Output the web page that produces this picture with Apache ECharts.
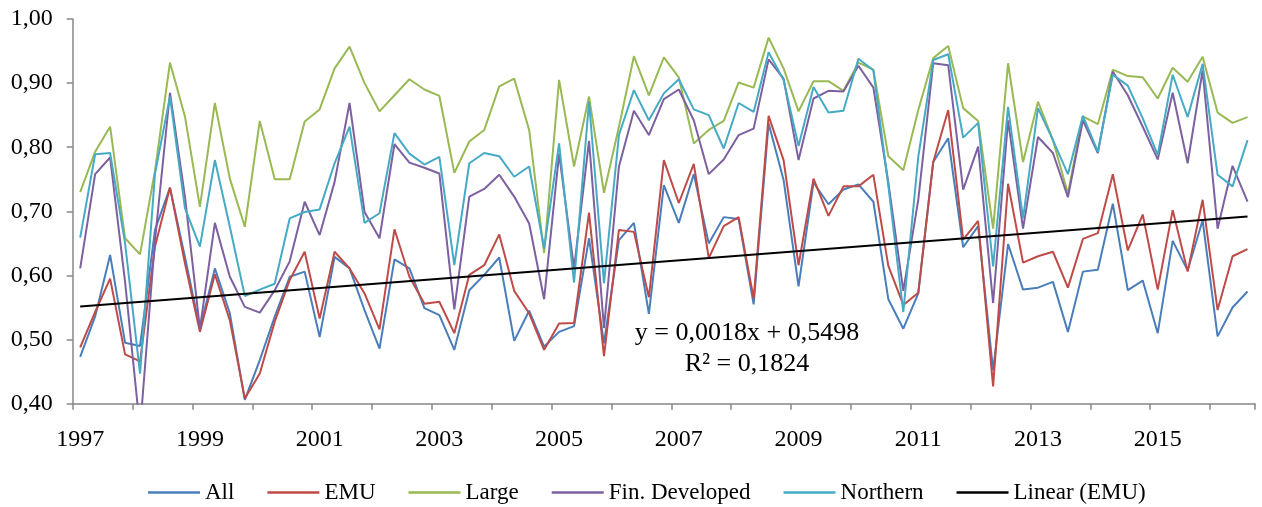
<!DOCTYPE html>
<html>
<head>
<meta charset="utf-8">
<script src="https://cdn.jsdelivr.net/npm/echarts@6/dist/echarts.min.js"></script>
<style>
html,body{margin:0;padding:0;background:#fff;}
#chart{width:1262px;height:507px;}
</style>
</head>
<body>
<div id="chart"></div>
<script>
// Quarterly categories 1997Q1 .. 2016Q3
const startYear = 1997;
const quarterCount = 79;
const categories = [];
for (let i = 0; i < quarterCount; i++) {
  categories.push((startYear + Math.floor(i / 4)) + 'Q' + (i % 4 + 1));
}

const allValues = [0.473,0.536,0.632,0.495,0.490,0.671,0.737,0.629,0.517,0.611,0.541,0.406,0.468,0.536,0.598,0.606,0.504,0.629,0.611,0.546,
0.486,0.625,0.611,0.549,0.538,0.484,0.577,0.601,0.628,0.498,0.545,0.489,0.512,0.521,0.658,0.494,0.655,0.682,0.540,0.741,
0.682,0.758,0.650,0.691,0.688,0.555,0.837,0.749,0.583,0.745,0.711,0.734,0.742,0.715,0.563,0.517,0.572,0.777,0.814,0.644,
0.677,0.452,0.649,0.578,0.581,0.590,0.512,0.606,0.609,0.712,0.577,0.592,0.510,0.654,0.608,0.686,0.505,0.550,0.575];

const emuValues = [0.488,0.543,0.595,0.477,0.466,0.645,0.737,0.619,0.512,0.602,0.530,0.408,0.447,0.528,0.593,0.637,0.533,0.637,0.611,0.572,
0.516,0.672,0.598,0.556,0.559,0.510,0.601,0.616,0.664,0.576,0.541,0.484,0.525,0.526,0.698,0.474,0.671,0.668,0.566,0.780,
0.713,0.774,0.627,0.677,0.691,0.564,0.849,0.780,0.616,0.751,0.693,0.739,0.739,0.757,0.615,0.554,0.573,0.777,0.858,0.656,
0.685,0.427,0.743,0.620,0.630,0.637,0.581,0.657,0.666,0.758,0.639,0.695,0.578,0.702,0.606,0.718,0.546,0.630,0.641];

const largeValues = [0.730,0.793,0.832,0.658,0.633,0.764,0.932,0.848,0.707,0.869,0.751,0.676,0.841,0.750,0.750,0.840,0.859,0.923,0.957,0.900,
0.856,0.881,0.906,0.890,0.880,0.760,0.809,0.827,0.895,0.907,0.827,0.635,0.905,0.770,0.879,0.729,0.832,0.942,0.881,0.940,
0.909,0.806,0.827,0.841,0.901,0.893,0.971,0.923,0.856,0.903,0.903,0.888,0.932,0.921,0.786,0.764,0.858,0.939,0.958,0.861,
0.841,0.673,0.931,0.777,0.871,0.811,0.728,0.848,0.836,0.921,0.911,0.909,0.876,0.924,0.902,0.941,0.854,0.838,0.847];

const finDevValues = [0.611,0.758,0.784,0.590,0.360,0.655,0.885,0.723,0.517,0.682,0.598,0.551,0.542,0.577,0.622,0.715,0.663,0.746,0.869,0.699,
0.658,0.805,0.776,0.768,0.759,0.547,0.723,0.735,0.757,0.723,0.681,0.563,0.790,0.611,0.810,0.518,0.770,0.857,0.819,0.875,
0.890,0.842,0.758,0.781,0.819,0.829,0.937,0.907,0.780,0.876,0.888,0.887,0.927,0.893,0.745,0.576,0.718,0.931,0.928,0.734,
0.801,0.557,0.842,0.673,0.816,0.791,0.722,0.842,0.791,0.918,0.881,0.832,0.781,0.885,0.775,0.920,0.673,0.771,0.715];

const northernValues = [0.659,0.789,0.791,0.650,0.447,0.759,0.879,0.705,0.645,0.780,0.676,0.568,0.578,0.587,0.689,0.699,0.703,0.775,0.832,0.682,
0.697,0.822,0.790,0.773,0.785,0.616,0.775,0.791,0.786,0.754,0.770,0.642,0.806,0.589,0.871,0.588,0.819,0.889,0.842,0.884,
0.906,0.859,0.850,0.798,0.869,0.855,0.948,0.905,0.802,0.894,0.854,0.857,0.938,0.920,0.740,0.543,0.785,0.936,0.945,0.815,
0.838,0.614,0.863,0.689,0.861,0.811,0.758,0.849,0.793,0.913,0.896,0.845,0.788,0.913,0.847,0.930,0.757,0.739,0.811];

// Linear trend on EMU as printed on the chart
const trendSlope = 0.0018;
const trendIntercept = 0.5498;
const trendText = ['y = 0,0018x + 0,5498', 'R² = 0,1824'];

const yTicks = { min: 0.4, max: 1.0, step: 0.1 };

const trendValues = categories.map((c, i) =>
  (i === 0 || i === categories.length - 1) ? trendIntercept + trendSlope * (i + 1) : null);

const font = 'Liberation Serif, Times New Roman, serif';
const axisGray = '#878787';

const chart = echarts.init(document.getElementById('chart'), null, { renderer: 'canvas' });

function lineSeries(name, data, color, width) {
  return {
    name: name, type: 'line', data: data, symbol: 'none', showSymbol: false,
    connectNulls: true, clip: true, animation: false,
    lineStyle: { color: color, width: width }, itemStyle: { color: color }
  };
}

chart.setOption({
  animation: false,
  grid: { left: 72.7, right: 7, top: 19, bottom: 103.3, containLabel: false },
  xAxis: {
    type: 'category', data: categories, boundaryGap: true,
    axisLine: { lineStyle: { color: axisGray, width: 1.5 } },
    axisTick: { show: true, interval: 3, length: 6, lineStyle: { color: axisGray, width: 1.5 } },
    axisLabel: {
      interval: 7, margin: 24, color: '#000', fontFamily: font, fontSize: 24,
      formatter: v => v.slice(0, 4)
    },
    splitLine: { show: false }
  },
  yAxis: {
    type: 'value', min: yTicks.min, max: yTicks.max, interval: yTicks.step,
    axisLine: { show: true, lineStyle: { color: axisGray, width: 1.5 } },
    axisTick: { show: true, length: 6, lineStyle: { color: axisGray, width: 1.5 } },
    axisLabel: {
      margin: 20, color: '#000', fontFamily: font, fontSize: 24,
      formatter: v => v.toFixed(2).replace('.', ',')
    },
    splitLine: { show: false }
  },
  legend: {
    top: 476, left: 143,
    itemWidth: 52, itemHeight: 2.5, itemGap: 33, icon: 'rect',
    textStyle: { fontFamily: font, fontSize: 23, color: '#000' },
    data: ['All', 'EMU', 'Large', 'Fin. Developed', 'Northern', 'Linear (EMU)']
  },
  graphic: [
    { type: 'text', position: [747, 333], style: { text: trendText[0], font: '26px ' + font, fill: '#000', textAlign: 'center', textVerticalAlign: 'middle' } },
    { type: 'text', position: [747, 364], style: { text: trendText[1], font: '26px ' + font, fill: '#000', textAlign: 'center', textVerticalAlign: 'middle' } }
  ],
  series: [
    lineSeries('All', allValues, '#4a7ebb', 2),
    lineSeries('EMU', emuValues, '#be4b48', 2),
    lineSeries('Large', largeValues, '#98b954', 2),
    lineSeries('Fin. Developed', finDevValues, '#7d60a0', 2),
    lineSeries('Northern', northernValues, '#46aac5', 2),
    lineSeries('Linear (EMU)', trendValues, '#000000', 2.2)
  ]
});
</script>
</body>
</html>
